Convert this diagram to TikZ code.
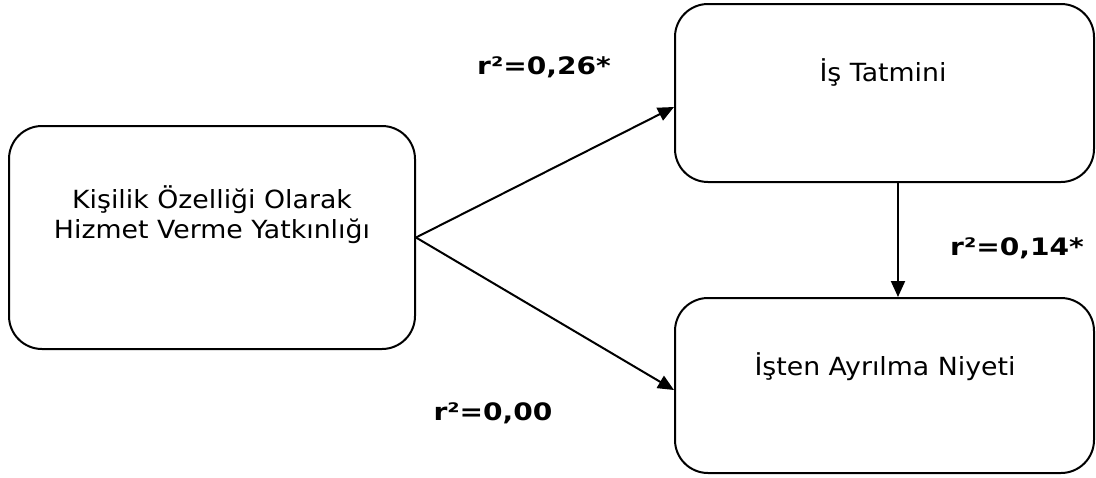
\documentclass[tikz,border=0pt]{standalone}
\usepackage{fontspec}
\setmainfont{DejaVu Sans}
\newfontfamily\regwide[FakeStretch=1.07]{DejaVu Sans}
\newfontfamily\boldwide[FakeStretch=1.17]{DejaVu Sans Bold}
\usetikzlibrary{arrows.meta}
\begin{document}
\begin{tikzpicture}[x=1pt,y=-1pt,
  box/.style={draw,line width=2pt,rounded corners=33pt,inner sep=0pt},
  lbl/.style={font=\regwide\fontsize{25}{30}\selectfont,align=center,inner sep=0pt},
  rlab/.style={font=\boldwide\fontsize{24}{28}\selectfont,inner sep=0pt},
  conn/.style={line width=2pt,-{Triangle[length=16pt,width=14pt]}}]
\useasboundingbox (0,0) rectangle (1096,477);
\node[box,minimum width=406pt,minimum height=223pt] (L) at (212,237.5) {};
\node[box,minimum width=419pt,minimum height=178pt] (T) at (884.5,93) {};
\node[box,minimum width=419pt,minimum height=175pt] (B) at (884.5,385.5) {};
\node[lbl] (Lt) at (212,215) {Kişilik Özelliği Olarak\\Hizmet Verme Yatkınlığı};
\node[lbl] (Tt) at (883,72) {İş Tatmini};
\node[lbl] (Bt) at (885,367) {İşten Ayrılma Niyeti};
\coordinate (c107) at (0,107);
\coordinate (c390) at (0,390);
\coordinate (x898) at (898,0);
\draw[conn] (L.east) -- (T.west |- c107);
\draw[conn] (L.east) -- (B.west |- c390);
\draw[conn] (T.south -| x898) -- (B.north -| x898);
\node[rlab] (r1) at (544,67) {r²=0,26*};
\node[rlab] (r2) at (1017,248) {r²=0,14*};
\node[rlab] (r3) at (493,413) {r²=0,00};
\end{tikzpicture}
\end{document}
